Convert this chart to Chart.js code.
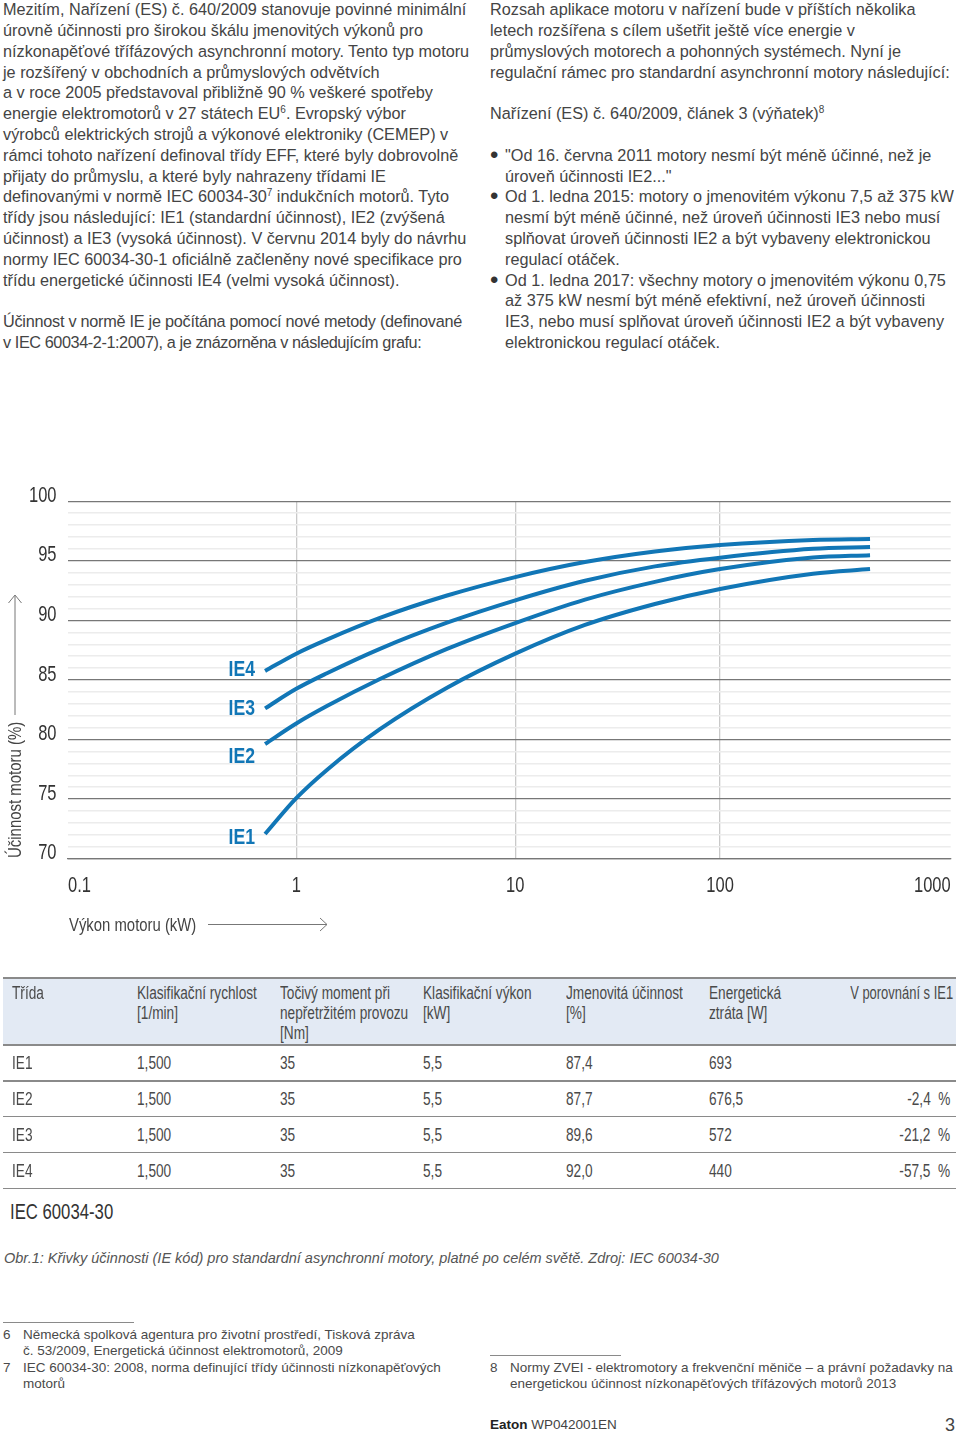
<!DOCTYPE html>
<html lang="cs">
<head>
<meta charset="utf-8">
<title>Křivky účinnosti</title>
<script src="https://cdn.jsdelivr.net/npm/chart.js@4"></script>
<style>
  html, body { margin: 0; padding: 0; background: #fff; }
  body { position: relative; width: 960px; height: 1432px; overflow: hidden; font-family: "Liberation Sans", sans-serif; color: #444; }
  .abs { position: absolute; white-space: nowrap; }
  .body-text { font-size: 16.25px; line-height: 20.8px; color: #444; }
  .body-text sup { font-size: 10px; line-height: 0; vertical-align: 6px; }
  .bullet { font-size: 24px; color: #333; }
  .narrow { transform: scaleX(0.76); transform-origin: 0 50%; }
  .cell { font-size: 17.5px; line-height: 20px; color: #4a4a4a; white-space: pre; transform: scaleX(0.78); transform-origin: 0 50%; }
  .cell.end { transform-origin: 100% 50%; }
  .note { font-size: 13.5px; line-height: 16.4px; color: #4a4a4a; }
  .rule { position: absolute; background: #8a8a8a; height: 1.4px; }
  #chart { position: absolute; left: 0; top: 470px; }
</style>
</head>
<body>

<div class="abs body-text" style="left:3px;top:-0.8px">Mezitím, Nařízení (ES) č. 640/2009 stanovuje povinné minimální<br>
úrovně účinnosti pro širokou škálu jmenovitých výkonů pro<br>
nízkonapěťové třífázových asynchronní motory. Tento typ motoru<br>
je rozšířený v obchodních a průmyslových odvětvích<br>
a v roce 2005 představoval přibližně 90 % veškeré spotřeby<br>
energie elektromotorů v 27 státech EU<sup>6</sup>. Evropský výbor<br>
výrobců elektrických strojů a výkonové elektroniky (CEMEP) v<br>
rámci tohoto nařízení definoval třídy EFF, které byly dobrovolně<br>
přijaty do průmyslu, a které byly nahrazeny třídami IE<br>
definovanými v normě IEC 60034-30<sup>7</sup> indukčních motorů. Tyto<br>
třídy jsou následující: IE1 (standardní účinnost), IE2 (zvýšená<br>
účinnost) a IE3 (vysoká účinnost). V červnu 2014 byly do návrhu<br>
normy IEC 60034-30-1 oficiálně začleněny nové specifikace pro<br>
třídu energetické účinnosti IE4 (velmi vysoká účinnost).<br>
<br>
<span style="letter-spacing:-0.26px">Účinnost v normě IE je počítána pomocí nové metody (definované</span><br>
<span style="letter-spacing:-0.42px">v IEC 60034-2-1:2007), a je znázorněna v následujícím grafu:</span></div>

<div class="abs body-text" style="left:490px;top:-0.8px">Rozsah aplikace motoru v nařízení bude v příštích několika<br>
letech rozšířena s cílem ušetřit ještě více energie v<br>
průmyslových motorech a pohonných systémech. Nyní je<br>
regulační rámec pro standardní asynchronní motory následující:<br>
<br>
Nařízení (ES) č. 640/2009, článek 3 (výňatek)<sup>8</sup></div>

<div class="abs body-text bullet" style="left:490px;top:144.800px">•</div>
<div class="abs body-text" style="left:505px;top:144.800px">"Od 16. června 2011 motory nesmí být méně účinné, než je<br>
úroveň účinnosti IE2..."</div>
<div class="abs body-text bullet" style="left:490px;top:186.400px">•</div>
<div class="abs body-text" style="left:505px;top:186.400px">Od 1. ledna 2015: motory o jmenovitém výkonu 7,5 až 375 kW<br>
nesmí být méně účinné, než úroveň účinnosti IE3 nebo musí<br>
splňovat úroveň účinnosti IE2 a být vybaveny elektronickou<br>
regulací otáček.</div>
<div class="abs body-text bullet" style="left:490px;top:269.600px">•</div>
<div class="abs body-text" style="left:505px;top:269.600px">Od 1. ledna 2017: všechny motory o jmenovitém výkonu 0,75<br>
až 375 kW nesmí být méně efektivní, než úroveň účinnosti<br>
IE3, nebo musí splňovat úroveň účinnosti IE2 a být vybaveny<br>
elektronickou regulací otáček.</div>

<canvas id="chart" width="960" height="480"></canvas>

<svg class="abs" style="left:0;top:580px" width="30" height="290">
  <text transform="translate(21,278) rotate(-90) scale(0.855,1)" font-family="Liberation Sans" font-size="17.500" fill="#444">Účinnost motoru (%)</text>
  <path d="M15 135V16M8.500 23L15 15L21.500 23" fill="none" stroke="#777" stroke-width="1"/>
</svg>
<div class="abs" style="left:69px;top:915px;font-size:17.5px;line-height:20px;color:#444;transform:scaleX(0.85);transform-origin:0 50%">Výkon motoru (kW)</div>
<svg class="abs" style="left:200px;top:910px" width="140" height="30">
  <path d="M8 14.500H127M120 8L127 14.500L120 21" fill="none" stroke="#777" stroke-width="1"/>
</svg>

<div id="table"></div>

<div class="abs narrow" style="left:10px;top:1199px;font-size:22px;line-height:26px;color:#333">IEC 60034-30</div>
<div class="abs" style="left:4px;top:1249px;font-size:14.5px;line-height:18px;font-style:italic;color:#555">Obr.1: Křivky účinnosti (IE kód) pro standardní asynchronní motory, platné po celém světě. Zdroj: IEC 60034-30</div>

<div class="rule" style="left:3px;top:1322px;width:131px"></div>
<div class="abs note" style="left:3px;top:1327px">6</div>
<div class="abs note" style="left:23px;top:1327px">Německá spolková agentura pro životní prostředí, Tisková zpráva<br>č. 53/2009, Energetická účinnost elektromotorů, 2009</div>
<div class="abs note" style="left:3px;top:1360px">7</div>
<div class="abs note" style="left:23px;top:1360px">IEC 60034-30: 2008, norma definující třídy účinnosti nízkonapěťových<br>motorů</div>
<div class="rule" style="left:490px;top:1355px;width:131px"></div>
<div class="abs note" style="left:490px;top:1360px">8</div>
<div class="abs note" style="left:510px;top:1360px">Normy ZVEI - elektromotory a frekvenční měniče – a právní požadavky na<br>energetickou účinnost nízkonapěťových třífázových motorů 2013</div>
<div class="abs" style="left:490px;top:1417px;font-size:13.5px;line-height:16px;color:#444"><b style="color:#222">Eaton</b> WP042001EN</div>
<div class="abs" style="left:945px;top:1415px;font-size:18px;line-height:20px;color:#444">3</div>

<script>
// chart data
const powerKw = [0.73, 1, 1.38, 2.41, 4.88, 10, 21.9, 48.1, 100, 253, 447];
const ie1 = [72.07, 75.08, 77.45, 80.87, 84.35, 87.21, 89.62, 91.38, 92.64, 93.92, 94.31];
const ie2 = [79.63, 81.35, 82.81, 85.08, 87.61, 89.78, 91.75, 93.24, 94.31, 95.28, 95.48];
const ie3 = [82.62, 84.26, 85.57, 87.62, 89.81, 91.69, 93.33, 94.54, 95.27, 96.01, 96.16];
const ie4 = [85.76, 87.21, 88.39, 90.21, 92.09, 93.64, 94.9, 95.79, 96.33, 96.76, 96.84];
const xTicks = [0.1, 1, 10, 100, 1000];
const xTickLabels = ['0.1', '1', '10', '100', '1000'];

// table data
const tableHead = [
  ['Třída'],
  ['Klasifikační rychlost', '[1/min]'],
  ['Točivý moment při', 'nepřetržitém provozu', '[Nm]'],
  ['Klasifikační výkon', '[kW]'],
  ['Jmenovitá účinnost', '[%]'],
  ['Energetická', 'ztráta [W]'],
  ['V porovnání s IE1']
];
const tableClass = ['IE1', 'IE2', 'IE3', 'IE4'];
const tableSpeed = ['1,500', '1,500', '1,500', '1,500'];
const tableTorque = ['35', '35', '35', '35'];
const tablePower = ['5,5', '5,5', '5,5', '5,5'];
const tableEff = ['87,4', '87,7', '89,6', '92,0'];
const tableLoss = ['693', '676,5', '572', '440'];
const tableVsIe1 = ['', '-2,4  %', '-21,2  %', '-57,5  %'];

const BLUE = '#1176b6';
const FONT = '"Liberation Sans", sans-serif';
const SQUEEZE = 0.75; // no condensed face installed, labels are squeezed by hand

// the printed axis has uneven decades, so the scale is log inside each decade
const decadeStops = [0, 0.2586, 0.5067, 0.7387, 1];
class PrintedLogScale extends Chart.LogarithmicScale {
  getPixelForValue(value) {
    const pos = Math.log10(value) + 1;
    const i = Math.min(Math.max(Math.floor(pos), 0), decadeStops.length - 2);
    return this.getPixelForDecimal(decadeStops[i] + (pos - i) * (decadeStops[i + 1] - decadeStops[i]));
  }
}
PrintedLogScale.id = 'printedLog';
PrintedLogScale.defaults = Chart.LogarithmicScale.defaults;
Chart.register(PrintedLogScale);

function curve(label, values) {
  return {
    label: label,
    data: powerKw.map((x, i) => ({ x: x, y: values[i] })),
    borderColor: BLUE,
    borderWidth: 4,
    pointRadius: 0,
    cubicInterpolationMode: 'monotone',
    borderCapStyle: 'butt'
  };
}

function squeezedText(c, text, x, y, align, squeeze) {
  c.save();
  c.translate(x, y);
  c.scale(squeeze, 1);
  c.textAlign = align;
  c.textBaseline = 'middle';
  c.fillText(text, 0, 0);
  c.restore();
}

// tick labels come from the scales, drawn squeezed because Chart.js cannot do that itself
const narrowTicks = {
  id: 'narrowTicks',
  afterDraw(chart) {
    const c = chart.ctx;
    const x = chart.scales.x;
    const y = chart.scales.y;
    c.save();
    c.fillStyle = '#333';
    c.font = '22px ' + FONT;
    x.ticks.forEach((t, i) => {
      const align = i === 0 ? 'left' : i === x.ticks.length - 1 ? 'right' : 'center';
      squeezedText(c, xTickLabels[i], x.getPixelForTick(i), chart.chartArea.bottom + 27, align, SQUEEZE);
    });
    y.ticks.forEach((t, i) => {
      if (t.value % 5 === 0) squeezedText(c, String(t.value), 56.5, y.getPixelForTick(i) - 5.5, 'right', SQUEEZE);
    });
    c.restore();
  }
};

// IE labels sit left of where each curve starts
const labelDrop = { IE1: 4, IE2: 13, IE3: 1, IE4: -1 };
const curveLabels = {
  id: 'curveLabels',
  afterDatasetsDraw(chart) {
    const c = chart.ctx;
    c.save();
    c.font = 'bold 22px ' + FONT;
    c.fillStyle = BLUE;
    chart.data.datasets.forEach(ds => {
      const first = ds.data[0];
      squeezedText(c, ds.label, chart.scales.x.getPixelForValue(first.x) - 36.5, chart.scales.y.getPixelForValue(first.y) + labelDrop[ds.label], 'left', 0.8);
    });
    c.restore();
  }
};

new Chart(document.getElementById('chart'), {
  type: 'line',
  data: { datasets: [curve('IE1', ie1), curve('IE2', ie2), curve('IE3', ie3), curve('IE4', ie4)] },
  options: {
    responsive: false,
    animation: false,
    layout: { padding: { top: 31.3, right: 9.3, bottom: 0, left: 0 } },
    plugins: { legend: { display: false }, tooltip: { enabled: false } },
    scales: {
      x: {
        type: 'printedLog',
        min: 0.1,
        max: 1000,
        afterBuildTicks(scale) { scale.ticks = xTicks.map(v => ({ value: v })); },
        afterFit(scale) { scale.height = 91.3; },
        border: { color: '#777', width: 1.3 },
        grid: {
          drawTicks: false,
          lineWidth: 1.3,
          color: ctx => (ctx.tick && (ctx.tick.value === 0.1 || ctx.tick.value === 1000)) ? 'rgba(0,0,0,0)' : '#c9c9c9'
        },
        ticks: { display: false, autoSkip: false }
      },
      y: {
        min: 70,
        max: 100,
        afterFit(scale) { scale.width = 68; },
        border: { display: false },
        grid: {
          drawTicks: false,
          lineWidth: ctx => (ctx.tick.value % 5 === 0 ? 1.3 : 1.5),
          color: ctx => (ctx.tick.value % 5 === 0 ? '#777' : '#ececec')
        },
        ticks: { display: false, stepSize: 1, autoSkip: false }
      }
    }
  },
  plugins: [curveLabels, narrowTicks]
});

// table below the chart
const colLeft = [12, 137, 280, 423, 566, 709];
const rowCentre = [1063, 1099, 1135, 1171];
const lineTops = [978, 1045, 1081, 1116.7, 1152.7, 1188.5];
const tableEl = document.getElementById('table');

function addDiv(css, text, cls) {
  const d = document.createElement('div');
  d.className = cls === undefined ? 'abs cell' : cls;
  d.style.cssText = css;
  if (text !== undefined) d.textContent = text;
  tableEl.appendChild(d);
}

addDiv('position:absolute;left:3px;top:978px;width:953px;height:67px;background:#e3eaf4', undefined, '');
lineTops.forEach(t => addDiv('left:3px;top:' + (t - 0.7) + 'px;width:953px', undefined, 'rule'));

tableHead.forEach((lines, col) => {
  lines.forEach((text, row) => {
    const top = 983 + row * 20;
    if (col < colLeft.length) addDiv('left:' + colLeft[col] + 'px;top:' + top + 'px', text);
    else addDiv('right:6.500px;top:' + top + 'px;transform:scaleX(0.74)', text, 'abs cell end');
  });
});

[tableClass, tableSpeed, tableTorque, tablePower, tableEff, tableLoss].forEach((column, col) => {
  column.forEach((text, row) => addDiv('left:' + colLeft[col] + 'px;top:' + (rowCentre[row] - 10) + 'px', text));
});
tableVsIe1.forEach((text, row) => addDiv('right:10px;top:' + (rowCentre[row] - 10) + 'px', text, 'abs cell end'));
</script>
</body>
</html>
